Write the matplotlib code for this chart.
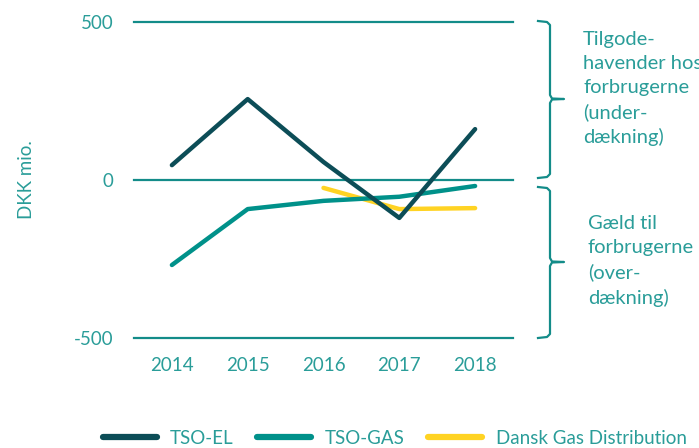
import matplotlib
matplotlib.use("Agg")
import matplotlib.pyplot as plt

years = ["2014", "2015", "2016", "2017", "2018"]
tso_el = [47, 256, 57, -120, 161]
tso_gas = [-269, -92, -66, -53, -19]
dansk_gas = [None, None, -25, -92, -89]
series_names = ["TSO-EL", "TSO-GAS", "Dansk Gas Distribution"]
yticks = [-500, 0, 500]
note_top = "Tilgode-\nhavender hos\nforbrugerne\n(under-\ndækning)"
note_bottom = "Gæld til\nforbrugerne\n(over-\ndækning)"
ylabel = "DKK mio."

C_DARK = "#0c4d57"
C_TEAL = "#00918a"
C_YEL = "#ffd323"
C_TXT = "#2a9d99"
C_GRID = "#138c89"
colors = [C_DARK, C_TEAL, C_YEL]
FS = 13.5
FS_NOTE = 14.5

plt.rcParams["font.family"] = ["Lato", "DejaVu Sans"]
W, H = 699, 448
fig = plt.figure(figsize=(W / 100, H / 100), dpi=100)
ax = fig.add_axes([134 / W, 1 - 338 / H, (513 - 134) / W, (338 - 22) / H])

x = list(range(len(years)))
ax.plot(x, tso_el, color=C_DARK, lw=3.2, solid_capstyle="round", label=series_names[0], zorder=4)
ax.plot(x, tso_gas, color=C_TEAL, lw=3.2, solid_capstyle="round", label=series_names[1], zorder=3)
dx = [i for i, v in zip(x, dansk_gas) if v is not None]
dy = [v for v in dansk_gas if v is not None]
ax.plot(dx, dy, color=C_YEL, lw=3.2, solid_capstyle="round", label=series_names[2], zorder=2)

ax.set_xlim(-0.5, len(years) - 0.5)
ax.set_ylim(-500, 500)
ax.set_yticks(yticks)
ax.set_yticklabels([str(t) for t in yticks])
ax.set_xticks(x)
ax.set_xticklabels(years)
for t in yticks:
    ax.axhline(t, color=C_GRID, lw=1.6, zorder=1, clip_on=False)
for s in ax.spines.values():
    s.set_visible(False)
ax.tick_params(length=0, colors=C_TXT, labelsize=FS)
ax.tick_params(axis="y", pad=15)
ax.tick_params(axis="x", pad=14)
ax.set_ylabel(ylabel, color=C_TXT, fontsize=FS)
ax.yaxis.set_label_coords(-0.26, 0.5)

# overlay for braces, notes and legend in pixel coordinates
ov = fig.add_axes([0, 0, 1, 1], zorder=-1)
ov.set_xlim(0, W)
ov.set_ylim(H, 0)
ov.axis("off")

def brace(y0, y1, ym):
    xs = [538, 547, 550, 550, 552, 564, 552, 550, 550, 547, 538]
    ys = [y0, y0 + 1, y0 + 4, ym - 4, ym - 0.5, ym, ym + 0.5, ym + 4, y1 - 4, y1 - 1, y1]
    ov.plot(xs, ys, color=C_GRID, lw=1.6, solid_joinstyle="round")

brace(21, 178, 99)
brace(187, 338, 262)
ov.text(583, 31, note_top, color=C_TXT, fontsize=FS_NOTE, va="top", ha="left", linespacing=1.49)
ov.text(588, 215, note_bottom, color=C_TXT, fontsize=FS_NOTE, va="top", ha="left", linespacing=1.49)

leg_x = [(103, 157, 170), (257, 311, 325), (428, 482, 496)]
for (x0, x1, xt), c, name in zip(leg_x, colors, series_names):
    ov.plot([x0, x1], [437, 437], color=c, lw=4.5, solid_capstyle="round")
    ov.text(xt, 437, name, color=C_TXT, fontsize=FS, va="center_baseline", ha="left")

fig.savefig("out.png", dpi=100)
